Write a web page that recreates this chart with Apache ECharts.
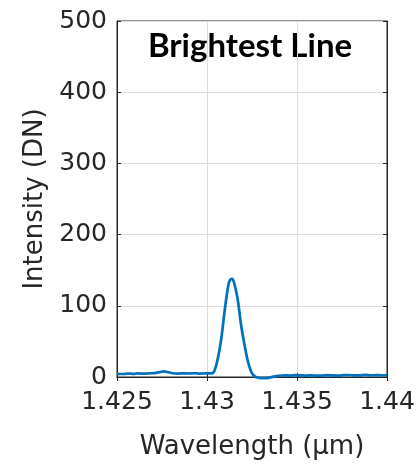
<!DOCTYPE html>
<html>
<head>
<meta charset="utf-8">
<script src="https://cdn.jsdelivr.net/npm/echarts@6/dist/echarts.min.js"></script>
<style>
  html, body { margin: 0; padding: 0; background: #ffffff; }
  #chart { width: 420px; height: 465px; }
</style>
</head>
<body>
<div id="chart"></div>
<script>
// Spectrum around the brightest emission line
const wavelength = [
  1.4250, 1.4253, 1.4256, 1.4259, 1.4262, 1.4265, 1.4268, 1.4271, 1.4274, 1.4276,
  1.4278, 1.4281, 1.4284, 1.4287, 1.4290, 1.4293, 1.4296, 1.4299, 1.4302, 1.4304,
  1.4306, 1.4308, 1.4310, 1.4312, 1.4313, 1.4314, 1.4315, 1.4317, 1.4319, 1.4321,
  1.4323, 1.4325, 1.4327, 1.4329, 1.4331, 1.4334, 1.4337, 1.4340, 1.4343, 1.4346,
  1.4349, 1.4352, 1.4355, 1.4358, 1.4361, 1.4364, 1.4367, 1.4370, 1.4373, 1.4376,
  1.4379, 1.4382, 1.4385, 1.4388, 1.4391, 1.4394, 1.4397, 1.4400
];
const intensity = [
  4.5, 4.2, 4.8, 4.5, 5.0, 4.6, 5.2, 5.5, 7.0, 7.8,
  7.0, 5.3, 4.8, 5.2, 4.9, 5.3, 4.8, 5.1, 5.0, 8.0,
  26, 55, 97, 131, 137, 138, 133, 110, 72, 43,
  19, 5, 0, -1.2, -1.5, -1.2, 0.5, 1.8, 2.3, 2.0,
  2.6, 2.3, 2.0, 2.4, 1.8, 2.1, 2.6, 2.2, 2.0, 2.5,
  2.8, 2.2, 2.4, 3.0, 2.3, 2.6, 2.4, 2.8
];
const xTicks = ['1.425', '1.43', '1.435', '1.44'];
const yTicks = ['0', '100', '200', '300', '400', '500'];

const axisColor = '#262626';
const gridColor = '#dcdcdc';
const font = 'DejaVu Sans';

const chart = echarts.init(document.getElementById('chart'), null, { renderer: 'canvas' });

const xLabel = v => {
  const s = String(parseFloat(v.toFixed(3)));
  return xTicks.includes(s) ? s : '';
};
const yLabel = v => {
  const s = String(Math.round(v));
  return yTicks.includes(s) ? s : '';
};

chart.setOption({
  animation: false,
  backgroundColor: '#ffffff',
  grid: {
    left: 117, right: 33, top: 21, bottom: 87,
    show: true, borderColor: axisColor, borderWidth: 1
  },
  graphic: [{
    type: 'text',
    x: 250, y: 30,
    style: {
      text: 'Brightest Line',
      font: 'bold 33px Lato',
      fill: '#000000',
      textAlign: 'center'
    }
  }],
  xAxis: [{
    type: 'value', min: 1.425, max: 1.44, interval: 0.005,
    name: 'Wavelength (\u00b5m)', nameLocation: 'middle', nameGap: 57,
    nameTextStyle: { fontFamily: font, fontSize: 26, color: axisColor },
    axisLine: { show: true, lineStyle: { color: axisColor, width: 1 } },
    axisTick: { show: true, inside: true, length: 4, lineStyle: { color: axisColor } },
    axisLabel: { formatter: xLabel, fontFamily: font, fontSize: 25, color: axisColor, margin: 13, showMinLabel: true, showMaxLabel: true },
    splitLine: { show: true, lineStyle: { color: gridColor, width: 1 } }
  }, {
    type: 'value', position: 'top', min: 1.425, max: 1.44, interval: 0.005,
    axisLine: { show: true, lineStyle: { color: axisColor } },
    axisTick: { show: true, inside: true, length: 4, lineStyle: { color: axisColor } },
    axisLabel: { show: false },
    splitLine: { show: false }
  }],
  yAxis: [{
    type: 'value', min: 0, max: 500, interval: 100,
    name: 'Intensity (DN)', nameLocation: 'middle', nameGap: 68,
    nameTextStyle: { fontFamily: font, fontSize: 26, color: axisColor },
    axisLine: { show: true, lineStyle: { color: axisColor, width: 1 } },
    axisTick: { show: true, inside: true, length: 4, lineStyle: { color: axisColor } },
    axisLabel: { formatter: yLabel, fontFamily: font, fontSize: 25, color: axisColor, margin: 10 },
    splitLine: { show: true, lineStyle: { color: gridColor, width: 1 } }
  }, {
    type: 'value', position: 'right', min: 0, max: 500, interval: 100,
    axisLine: { show: true, lineStyle: { color: axisColor } },
    axisTick: { show: true, inside: true, length: 4, lineStyle: { color: axisColor } },
    axisLabel: { show: false },
    splitLine: { show: false }
  }],
  series: [{
    type: 'line',
    xAxisIndex: 0, yAxisIndex: 0,
    data: wavelength.map((w, i) => [w, intensity[i]]),
    showSymbol: false,
    smooth: 0.3,
    clip: false,
    lineStyle: { color: '#0072BD', width: 2.7 }
  }]
});
</script>
</body>
</html>
